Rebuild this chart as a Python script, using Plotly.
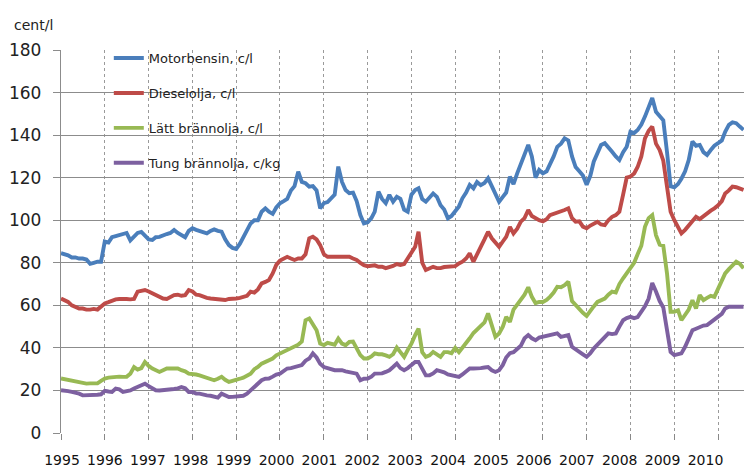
import pandas as pd
import plotly.graph_objects as go

# Monthly prices, Jan 1995 .. Aug 2010
motorbensin = [
    84.5, 84, 83.5, 82.5, 82.5, 82, 82, 81.5, 79.5, 80, 80.5, 80.5,
    90, 89.5, 92, 92.5, 93, 93.5, 94, 90.5, 92.5, 94, 94.5, 93,
    91, 90.7, 92, 92.2, 93, 93.5, 94, 95.4, 94, 93, 92, 95,
    96.2, 95.5, 95, 94, 93.8, 95, 95.7, 95, 94.6, 91, 88.3, 87,
    86.5, 89, 92, 95, 98.5, 100, 100, 104, 105.6, 104, 103, 106,
    108, 109, 110, 114, 116, 122.8, 118, 117.4, 115.8, 116, 114, 105.6,
    108, 108.5, 110, 112, 125.2, 118, 114.2, 112.7, 113, 109, 102.4, 98.5,
    99, 101, 104, 113.4, 110, 108, 111.9, 108.7, 111, 110, 105, 104,
    112, 114.2, 115, 110, 108.7, 111, 112.6, 111, 107, 105, 100.9, 102,
    104, 106.5, 110.3, 113, 116.6, 115, 118, 116.5, 117.5, 119.7, 116, 112,
    108.7, 111, 113, 120.5, 117, 122, 126, 131, 135.4, 130, 120, 123.6,
    122, 123, 126, 130, 134.5, 136, 138.5, 137.5, 130, 125, 123, 121,
    116.6, 121, 127.5, 131, 135.4, 136.2, 134.5, 132.2, 130, 128.3, 132, 134.5,
    141.6, 141, 142.4, 145, 148.7, 153, 157.4, 151, 149, 147, 132, 116,
    115.5, 117, 119.5, 123, 128.3, 137, 135, 135.4, 132, 130.7, 133, 135,
    136.2, 137.5, 141.6, 144.8, 146, 145.6, 144, 142.5,
]
dieselolja = [
    63.2, 62.5, 61.6, 60, 59.3, 58.5, 58.5, 58, 58, 58.3, 58, 59.5,
    60.9, 61.5, 62.2, 62.8, 63, 63.2, 63, 62.8, 63, 66.4, 66.8, 67.2,
    66.5, 65.6, 64.5, 64, 63.2, 63, 64, 64.8, 65, 64.5, 64.8, 67.2,
    66.5, 65, 64.8, 64, 63.5, 63.2, 63, 62.5, 62.4, 62.5, 63, 63,
    63.2, 63.5, 64, 64.5, 66.4, 66, 67.5, 70.3, 71, 71.9, 75, 79,
    81, 82, 82.8, 82, 81.3, 82, 82, 84, 91.5, 92.2, 91, 88.3,
    84, 82.8, 82.8, 82.8, 83, 82.8, 83, 82.8, 82, 81.3, 80, 78.9,
    78.4, 78.5, 78.8, 78.1, 78.2, 77.5, 77.8, 78.5, 79.4, 79, 79.4, 82,
    84, 87.5, 94.6, 80, 76.6, 77.5, 78.1, 77.5, 77.5, 78, 78, 78,
    78.4, 79.7, 80.5, 82, 84.4, 80.5, 84.5, 87.5, 91, 94.6, 91.5, 89.5,
    87.5, 90, 92.2, 96.9, 93.8, 96, 99.3, 101, 104.8, 102, 100.9, 100,
    99.5, 100.5, 102.4, 103, 103.2, 104, 104.8, 105.6, 101, 99.3, 99.5, 97,
    96.2, 97.5, 98.5, 99.3, 98, 97.7, 100, 101.6, 102.4, 104, 112, 120,
    120.5, 122, 125, 130, 138.5, 142, 144, 136, 133, 128, 115.8, 104,
    100, 97, 93.8, 95.5, 97.5, 100, 101.6, 100.5, 102, 103.2, 104.5, 105.6,
    107, 109, 112.6, 114, 115.8, 115.5, 115, 114.2,
]
latt_brannolja = [
    25.6, 25.2, 24.8, 24.5, 24.3, 24, 23.6, 23.2, 23.3, 23.4, 23.3, 24.5,
    25.6, 26, 26.2, 26.7, 26.5, 26.4, 26.4, 27.9, 31, 29.8, 30.5, 33.4,
    31.5, 30.3, 29.5, 28.7, 29.5, 30.3, 30.3, 30.3, 30.3, 29.5, 29, 27.9,
    27.9, 27.5, 27.1, 26.5, 25.6, 25.2, 24.8, 25.5, 26.4, 25, 24, 24.5,
    24.8, 25.5, 26, 27, 27.9, 30, 31, 32.6, 33.4, 34.5, 35, 36.5,
    37.4, 38.2, 38.9, 40, 40.5, 41.5, 43, 53, 53.8, 51, 48.3, 42,
    41.3, 42.4, 42, 41.5, 44.4, 42, 41.3, 42.8, 43, 40, 36.6, 35,
    35, 36, 37.4, 37, 37, 36.5, 35.8, 37, 40.2, 38, 35.8, 39,
    42, 46, 49.1, 38, 35.8, 36.5, 38.1, 37, 35.8, 38, 38, 37.5,
    40, 38, 40, 42, 44.5, 47, 48.5, 49.9, 52, 56.2, 50, 45.2,
    46.8, 50, 54.6, 52.2, 58, 60.5, 63, 65, 68.5, 64, 61, 61.6,
    61.6, 62.5, 64, 66, 68.7, 68.5, 69.5, 71.1, 62, 60.1, 58.5, 56.5,
    55, 57.7, 59.5, 61.6, 62.5, 63.2, 65, 66.4, 66, 70, 72.7, 75,
    77, 80, 84, 88, 96.9, 101, 102.4, 93, 88.5, 88, 75, 57,
    57, 57.7, 53, 55.5, 58, 62.4, 58.5, 64.8, 62.4, 63.5, 64.5, 64,
    68, 71, 75, 77, 79, 80.5, 79.5, 77.4,
]
tung_brannolja = [
    20.1, 20, 19.7, 19.3, 19, 18.5, 17.7, 17.7, 17.8, 17.8, 18, 18.2,
    19.8, 19.5, 19.3, 20.9, 20.5, 19.3, 19.5, 20, 20.9, 21.6, 22.5, 23.2,
    22, 20.9, 20.1, 20, 20.1, 20.3, 20.5, 20.7, 21, 21.6, 21, 19.3,
    19.3, 18.5, 18.5, 18, 17.7, 17.5, 17.2, 16.6, 18.5, 17.5, 16.9, 17,
    17.2, 17.5, 17.5, 18.5, 20.1, 21.5, 23.2, 24.8, 25.5, 25.6, 26.5, 27.5,
    27.9, 29, 30.3, 30.5, 31, 31.5, 31.9, 34, 35, 37.4, 35.5, 32.5,
    31, 30.5, 30, 29.5, 29.5, 29.5, 29, 28.7, 28.5, 27.9, 24.8, 25.5,
    25.6, 26.5, 27.9, 28, 28, 28.7, 29.5, 31, 32.6, 30.5, 29.5, 30.5,
    32, 33.4, 33.4, 30, 27.1, 27.1, 28, 29.5, 29, 28.5, 27.5, 27.1,
    26.8, 26.4, 27.5, 29, 30.3, 30.3, 30.3, 30.5, 30.8, 31, 29.5, 28.7,
    29.5, 32, 35.5, 37.5, 38, 39.5, 41, 44.5, 46, 44.5, 43.6, 44.8,
    45.2, 45.5, 46, 46.2, 46.8, 45.2, 45.5, 46, 40.5, 39.5, 38.1, 37,
    35.8, 37.5, 39.7, 41.5, 43.6, 45, 46.8, 46.5, 46.8, 50, 53, 54,
    54.6, 54, 54.5, 57, 59.5, 63.2, 70.5, 66.5, 62, 59, 48.3, 38.1,
    36.6, 36.8, 37.4, 40.5, 44, 48.3, 49, 49.9, 50.5, 50.7, 52, 53,
    54.5, 56, 58.5, 59.3, 59.3, 59.3, 59.3, 59.3,
]

series_names = ["Motorbensin, c/l", "Dieselolja, c/l", "Lätt brännolja, c/l", "Tung brännolja, c/kg"]
series_values = [motorbensin, dieselolja, latt_brannolja, tung_brannolja]
series_colors = ["#4A7EBB", "#BE4B48", "#98B954", "#7D60A0"]

years = list(range(1995, 2011))
year_labels = [str(y) for y in years]
y_ticks = list(range(0, 181, 20))

months = pd.date_range("1995-01-01", periods=len(motorbensin), freq="MS")

fig = go.Figure()
for name, vals, col in zip(series_names, series_values, series_colors):
    fig.add_trace(go.Scatter(
        x=months, y=vals, mode="lines", name=name, legendgroup=name,
        line=dict(color=col, width=3.9), showlegend=True,
    ))

# carrier for the year-label axis (draws nothing)
fig.add_trace(go.Scatter(
    x=years, y=[None] * len(years), xaxis="x2", yaxis="y",
    mode="lines", showlegend=False, hoverinfo="skip",
))

FONT = "DejaVu Sans"
fig.update_layout(
    template="none",
    width=744, height=467,
    margin=dict(l=61, r=0, t=50, b=34),
    paper_bgcolor="white", plot_bgcolor="white",
    font=dict(family=FONT, color="#222"),
    showlegend=True,
    legend=dict(
        x=0.07, y=1.018, xanchor="left", yanchor="top",
        bgcolor="rgba(0,0,0,0)", borderwidth=0,
        font=dict(family=FONT, size=13, color="#222"),
        tracegroupgap=15,
    ),
    xaxis=dict(
        type="date",
        range=["1995-01-01", "2010-08-05"],
        tick0="1995-01-01", dtick="M12",
        showgrid=True, gridcolor="#9a9a9a", gridwidth=1, griddash="dot",
        showline=False, zeroline=False,
        ticks="outside", ticklen=6, tickcolor="#888", tickwidth=1,
        showticklabels=False,
    ),
    xaxis2=dict(
        type="linear",
        range=[1994.977, 2010.897],
        overlaying="x", anchor="y", side="bottom",
        tickmode="array", tickvals=years, ticktext=year_labels,
        showgrid=False, showline=False, zeroline=False, ticks="",
        tickfont=dict(family=FONT, size=14, color="#111"),
        ticklabelstandoff=17,
    ),
    yaxis=dict(
        range=[0, 180],
        tickmode="array", tickvals=y_ticks,
        showgrid=True, gridcolor="#8c8c8c", gridwidth=1.4,
        showline=True, linecolor="#8c8c8c", linewidth=1.4,
        zeroline=False,
        ticks="outside", ticklen=7, tickcolor="#8c8c8c", tickwidth=1.4,
        tickfont=dict(family=FONT, size=17, color="#222"),
        ticklabelstandoff=8,
    ),
    annotations=[dict(
        text="cent/l", xref="paper", yref="paper",
        x=-0.072, y=1.065, xanchor="left", yanchor="middle",
        showarrow=False, font=dict(family=FONT, size=14, color="#222"),
    )],
)

fig.write_html(
    "out.html",
    config={"displayModeBar": False},
    post_script="document.body.style.margin='0';document.body.style.overflow='hidden';",
)
